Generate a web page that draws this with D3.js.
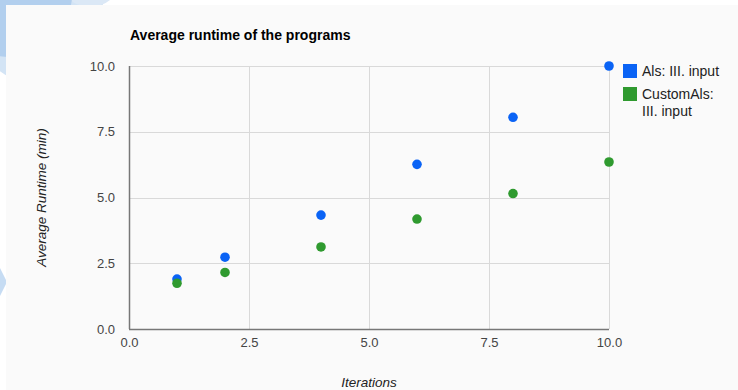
<!DOCTYPE html>
<html>
<head>
<meta charset="utf-8">
<script src="https://cdnjs.cloudflare.com/ajax/libs/d3/7.8.5/d3.min.js"></script>
<style>
  html, body { margin: 0; padding: 0; background: #ffffff; }
  svg { display: block; font-family: "Liberation Sans", Arial, sans-serif; }
</style>
</head>
<body>
<svg id="chart" width="738" height="390"></svg>
<script>
// Iteration counts (x) and average runtimes in minutes (y)
const iterations = [1, 2, 4, 6, 8, 10];
const alsRuntime = [1.9, 2.73, 4.33, 6.26, 8.05, 10.0];
const customAlsRuntime = [1.74, 2.15, 3.12, 4.18, 5.15, 6.35];
const seriesNames = ["Als: III. input", "CustomAls:\nIII. input"];
const xTicks = [0, 2.5, 5, 7.5, 10];
const yTicks = [0, 2.5, 5, 7.5, 10];

const colors = ["#0a63f5", "#2f9a2f"];

const svg = d3.select("#chart");

// decorative page backdrop shapes behind the card
const deco = svg.append("g");
deco.append("circle").attr("cx", 40).attr("cy", 20).attr("r", 65).attr("fill", "#d3e4f5");
deco.append("circle").attr("cx", 90).attr("cy", -25).attr("r", 32).attr("fill", "#dbe8f6");
deco.append("circle").attr("cx", 10).attr("cy", -5).attr("r", 62).attr("fill", "#b2cfee");
deco.append("path").attr("d", "M0,268 L7,282 L0,296 Z").attr("fill", "#c6dcf3");

// card background
svg.append("rect").attr("x", 6).attr("y", 5).attr("width", 732).attr("height", 385)
  .attr("fill", "#fafafa");

const plot = { left: 129, right: 609, top: 66, bottom: 329 };

const x = d3.scaleLinear().domain([0, 10]).range([plot.left, plot.right]);
const y = d3.scaleLinear().domain([0, 10]).range([plot.bottom, plot.top]);

// gridlines
const grid = svg.append("g");
grid.selectAll("line.h").data(yTicks).join("line")
  .attr("x1", plot.left).attr("x2", plot.right)
  .attr("y1", d => Math.round(y(d)) + 0.5).attr("y2", d => Math.round(y(d)) + 0.5)
  .attr("stroke", "#d9d9d9").attr("stroke-width", 1);
grid.selectAll("line.v").data(xTicks).join("line")
  .attr("y1", plot.top).attr("y2", plot.bottom)
  .attr("x1", d => Math.round(x(d)) + 0.5).attr("x2", d => Math.round(x(d)) + 0.5)
  .attr("stroke", "#d9d9d9").attr("stroke-width", 1);

// axes
const xAxis = d3.axisBottom(x).tickValues(xTicks).tickFormat(d3.format(".1f")).tickSize(0).tickPadding(9);
const yAxis = d3.axisLeft(y).tickValues(yTicks).tickFormat(d3.format(".1f")).tickSize(0).tickPadding(14);

const gx = svg.append("g").attr("transform", `translate(0,${plot.bottom})`).call(xAxis);
const gy = svg.append("g").attr("transform", `translate(${plot.left},0)`).call(yAxis);
[gx, gy].forEach(g => {
  g.select(".domain").remove();
  g.selectAll("text").attr("fill", "#444").style("font-size", "13px")
    .style("font-family", "'Liberation Sans', Arial, sans-serif");
});

// axis baselines
svg.append("line").attr("x1", plot.left).attr("x2", plot.right)
  .attr("y1", plot.bottom + 0.5).attr("y2", plot.bottom + 0.5)
  .attr("stroke", "#777").attr("stroke-width", 1.5);
svg.append("line").attr("x1", plot.left + 0.5).attr("x2", plot.left + 0.5)
  .attr("y1", plot.top).attr("y2", plot.bottom)
  .attr("stroke", "#777").attr("stroke-width", 1.5);

// points
const series = [alsRuntime, customAlsRuntime];
series.forEach((vals, i) => {
  svg.append("g").selectAll("circle")
    .data(iterations.map((it, k) => [it, vals[k]]))
    .join("circle")
    .attr("cx", d => x(d[0]))
    .attr("cy", d => y(d[1]))
    .attr("r", 4.8)
    .attr("fill", colors[i]);
});

// title
svg.append("text").attr("x", 130).attr("y", 40)
  .attr("font-size", "14px").attr("font-weight", "bold").attr("fill", "#000")
  .text("Average runtime of the programs");

// axis titles
svg.append("text").attr("x", (plot.left + plot.right) / 2).attr("y", 387)
  .attr("text-anchor", "middle").attr("font-size", "13.5px").attr("font-style", "italic")
  .attr("fill", "#222").text("Iterations");
svg.append("text")
  .attr("transform", `translate(46,${(plot.top + plot.bottom) / 2}) rotate(-90)`)
  .attr("text-anchor", "middle").attr("font-size", "13.5px").attr("font-style", "italic")
  .attr("fill", "#222").text("Average Runtime (min)");

// legend
const legend = svg.append("g").attr("transform", "translate(623,64)");
seriesNames.forEach((name, i) => {
  const g = legend.append("g").attr("transform", `translate(0,${i * 23})`);
  g.append("rect").attr("width", 14).attr("height", 14).attr("fill", colors[i]);
  const t = g.append("text").attr("x", 19).attr("y", 12)
    .attr("font-size", "14px").attr("fill", "#222");
  name.split("\n").forEach((line, j) => {
    t.append("tspan").attr("x", 19).attr("dy", j === 0 ? 0 : 17).text(line);
  });
});
</script>
</body>
</html>
